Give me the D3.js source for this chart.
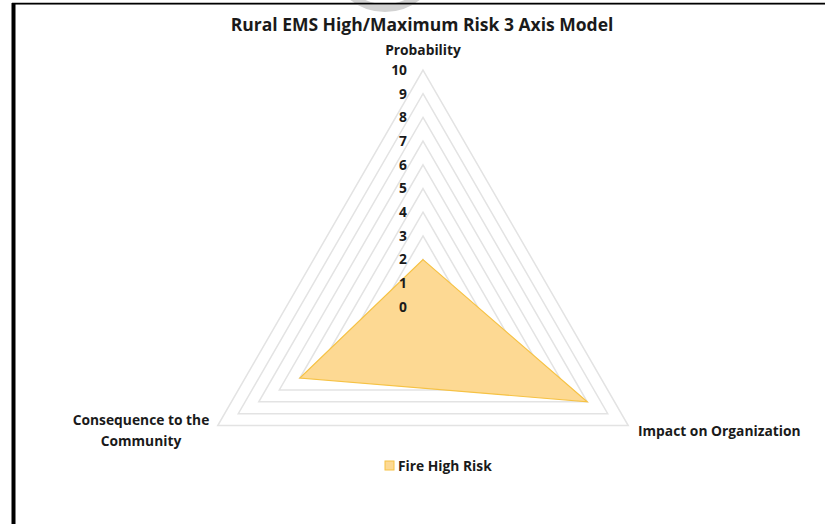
<!DOCTYPE html>
<html><head><meta charset="utf-8">
<script src="https://cdn.jsdelivr.net/npm/d3@7"></script>
<style>body{margin:0;background:#fff}svg{display:block}text{font-family:"Open Sans",Lato,sans-serif;font-weight:bold;fill:#1a1a1a}</style>
</head><body>
<svg id="c" width="825" height="524"></svg>
<script>
const title = "Rural EMS High/Maximum Risk 3 Axis Model";
const axes = ["Probability", "Impact on Organization", "Consequence to the Community"];
const seriesName = "Fire High Risk";
const values = [2, 8, 6];
const ticks = [0,1,2,3,4,5,6,7,8,9,10];

const svg = d3.select("#c");
const cx = 423, cy = 307, R = 237;
const r = d3.scaleLinear().domain([0, 10]).range([0, R]);
const ang = d3.scaleLinear().domain([0, axes.length]).range([-Math.PI/2, 1.5*Math.PI]);
const pt = (i, v) => [cx + r(v)*Math.cos(ang(i)), cy + r(v)*Math.sin(ang(i))];

// decorative frame
svg.append("clipPath").attr("id","topclip").append("rect").attr("x",0).attr("y",0).attr("width",825).attr("height",16);
svg.append("circle").attr("cx",385).attr("cy",-44).attr("r",52).attr("fill","none")
  .attr("stroke","#d2d2d2").attr("stroke-width",8).attr("clip-path","url(#topclip)");
svg.append("line").attr("x1",12).attr("x2",825).attr("y1",4.5).attr("y2",4.5).attr("stroke","#9a9a9a").attr("stroke-width",1);
svg.append("line").attr("x1",12).attr("x2",825).attr("y1",3.5).attr("y2",3.5).attr("stroke","#000").attr("stroke-width",1.5);
svg.append("line").attr("x1",13.5).attr("x2",13.5).attr("y1",3).attr("y2",524).attr("stroke","#000").attr("stroke-width",4);

// grid
const line = d3.line();
ticks.slice(1).forEach(t => {
  const p = axes.map((a, i) => pt(i, t));
  svg.append("path").attr("d", line(p) + "Z").attr("fill","none").attr("stroke","#e3e3e3").attr("stroke-width",1.5);
});

// series
const sp = values.map((v, i) => pt(i, v));
svg.append("path").attr("d", line(sp) + "Z").attr("fill","#fdd993").attr("stroke","#f6c244").attr("stroke-width",1.2);

// tick labels
ticks.forEach(t => {
  svg.append("text").attr("x", cx - 16).attr("y", cy - r(t)).attr("dy","0.35em")
    .attr("text-anchor","end").attr("font-size",13.8).text(t);
});

// title
svg.append("text").attr("x", 422).attr("y", 31).attr("text-anchor","middle").attr("font-size",17.5).text(title);

// axis labels
svg.append("text").attr("x", 423).attr("y", 55).attr("text-anchor","middle").attr("font-size",13.8).text(axes[0]);
svg.append("text").attr("x", 638).attr("y", 436).attr("text-anchor","start").attr("font-size",13.8).text(axes[1]);
const cl = svg.append("text").attr("x", 141).attr("y", 425).attr("text-anchor","middle").attr("font-size",13.8);
cl.append("tspan").attr("x",141).text("Consequence to the");
cl.append("tspan").attr("x",141).attr("dy",21).text("Community");

// legend
svg.append("rect").attr("x",385).attr("y",461).attr("width",9).attr("height",9).attr("fill","#fdd993").attr("stroke","#f6c244").attr("stroke-width",1);
svg.append("text").attr("x",398).attr("y",466).attr("dy","0.35em").attr("font-size",13.8).text(seriesName);
</script>
</body></html>
